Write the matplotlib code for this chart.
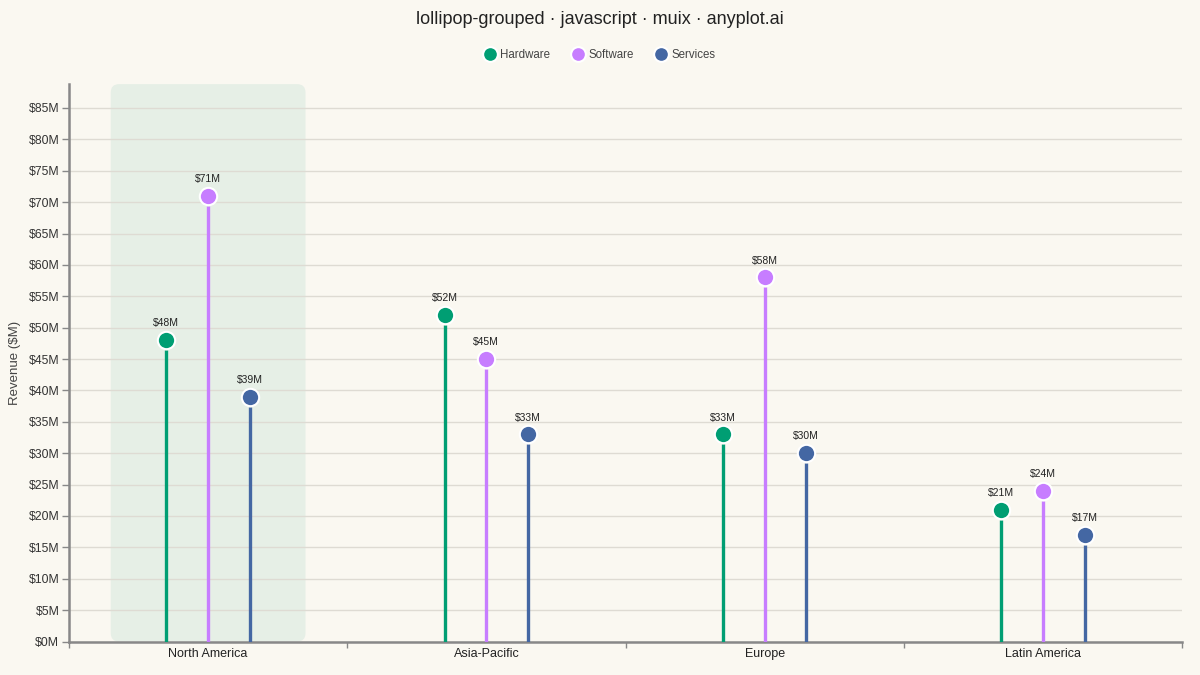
import matplotlib

matplotlib.use("Agg")
import matplotlib.pyplot as plt
from matplotlib.patches import FancyBboxPatch
import numpy as np

regions = ["North America", "Asia-Pacific", "Europe", "Latin America"]
series = ["Hardware", "Software", "Services"]
hardware = [48, 52, 33, 21]
software = [71, 45, 58, 24]
services = [39, 33, 30, 17]
colors = ["#009E73", "#C77DFF", "#4467A3"]

plt.rcParams["font.family"] = ["Liberation Sans", "DejaVu Sans"]

bg = "#FAF8F1"
fig = plt.figure(figsize=(12, 6.75), dpi=100, facecolor=bg)
ax = fig.add_axes([69 / 1200, 1 - 641.5 / 675, (1182 - 69) / 1200, (641.5 - 83.5) / 675])
ax.set_facecolor(bg)

ymax = 88.9
ax.set_xlim(0, len(regions))
ax.set_ylim(0, ymax)

# highlight band behind the first region
px_x = (1182 - 69) / len(regions)
px_y = (641.5 - 83.5) / ymax
band = FancyBboxPatch((0.15, 0), 0.70, ymax - 0.1,
                      boxstyle="round,pad=0,rounding_size=0.03",
                      mutation_aspect=px_x / px_y,
                      facecolor="#E6EFE6", edgecolor="none", zorder=0)
ax.add_patch(band)

ax.set_yticks(np.arange(0, 90, 5))
ax.set_yticklabels([f"${v}M" for v in range(0, 90, 5)])
ax.grid(axis="y", color="#DEDBD3", linewidth=1, zorder=1)
ax.set_axisbelow(True)

offsets = [-0.15, 0.0, 0.15]
gap = 10 / px_y
for values, name, color, off in zip([hardware, software, services], series, colors, offsets):
    xs = np.arange(len(regions)) + 0.5 + off
    for x, v in zip(xs, values):
        ax.plot([x, x], [0, v - gap], color=color, linewidth=2.4, solid_capstyle="butt", zorder=3)
        ax.annotate(f"${v}M", (x, v), xytext=(0, 8.5), textcoords="offset points",
                    ha="center", va="bottom", fontsize=7.5, color="#222222", zorder=5)
    ax.plot(xs, values, "o", markersize=12.5, color=color, markeredgecolor="white",
            markeredgewidth=1.5, linestyle="none", label=name, zorder=4)

ax.set_xticks(np.arange(len(regions) + 1))
ax.set_xticklabels([])
ax.set_xticks(np.arange(len(regions)) + 0.5, minor=True)
ax.set_xticklabels(regions, minor=True, fontsize=9, color="#222222")
ax.tick_params(axis="x", which="minor", length=0, pad=5)
ax.tick_params(axis="x", which="major", length=4, width=1, color="#888888")
ax.tick_params(axis="y", length=5, width=1, color="#888888", labelsize=8.8, labelcolor="#333333", pad=2)

for side in ["top", "right"]:
    ax.spines[side].set_visible(False)
for side in ["left", "bottom"]:
    ax.spines[side].set_color("#888888")
    ax.spines[side].set_linewidth(1.8)

ax.set_ylabel("Revenue ($M)", fontsize=9.5, color="#444444")
ax.yaxis.set_label_coords(-0.043, 0.5)

fig.suptitle("lollipop-grouped · javascript · muix · anyplot.ai", y=1 - 20 / 675,
             va="center", fontsize=13, color="#222222")

handles, labels = ax.get_legend_handles_labels()
fig.legend(handles, labels, loc="center", bbox_to_anchor=(0.5, 1 - 55 / 675), ncol=3,
           frameon=False, fontsize=8.3, labelcolor="#444444", handletextpad=0.4,
           columnspacing=1.9, markerscale=0.85, handlelength=1.0)

fig.savefig("out.png", dpi=100, facecolor=bg)
